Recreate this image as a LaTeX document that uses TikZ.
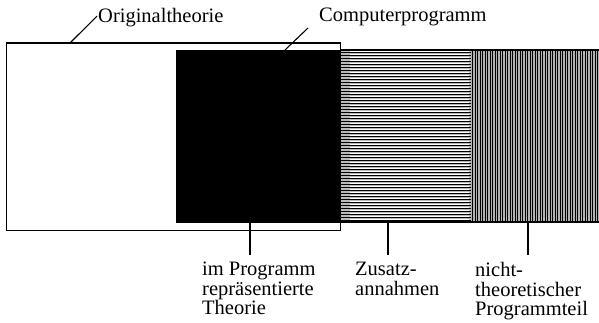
\documentclass[tikz,border=0pt]{standalone}
\usepackage{fontspec}
\setmainfont{Liberation Serif}
\begin{document}
\begin{tikzpicture}[x=1pt,y=1pt,
  lbl/.style={inner sep=0pt, font=\fontsize{20.5}{19.6}\selectfont},
  lead/.style={line width=1.1pt},
  box/.style={inner sep=0pt, outer sep=0pt, anchor=north west}]
\useasboundingbox (0,0) rectangle (599,323);
% original theory frame
\node[box, draw, line width=1.2pt, minimum width=334pt, minimum height=187.5pt] (orig) at (6.5,280) {};
% horizontal-striped region (Zusatzannahmen)
\node[box, fill=gray!55, minimum width=130pt, minimum height=172pt] (zus) at (341,273) {};
\foreach \y in {102.5,105.5,...,272} {
  \draw[black, line width=0.9pt] (341,\y) -- (471,\y);
  \draw[white, line width=0.35pt] (350,\y+1.5) -- (469,\y+1.5);
}
% vertical-striped region (nicht-theoretischer Programmteil)
\node[box, fill=gray!60, minimum width=128pt, minimum height=172pt] (nth) at (471,273) {};
\foreach \x in {472.5,475,...,599} {
  \draw[black, line width=0.8pt] (\x,101) -- (\x,273);
}
\draw[line width=1.5pt] (zus.north west) -- (nth.north east);
\draw[line width=1.5pt] (zus.south west) -- (nth.south east);
% program-represented theory (black)
\node[box, fill=black, minimum width=165pt, minimum height=173pt] (prog) at (176,273) {};
% labels
\node[lbl, anchor=base west] (t1) at (98,300) {Originaltheorie};
\node[lbl, anchor=base west] (t2) at (319,301) {Computerprogramm};
\node[lbl, anchor=north west, align=left] (b1) at (202,61) {im Programm\\repräsentierte\\Theorie};
\node[lbl, anchor=north west, align=left] (b2) at (355,61) {Zusatz-\\annahmen};
\node[lbl, anchor=north west, align=left] (b3) at (475,61) {nicht-\\theoretischer\\Programmteil};
% leader lines
\coordinate (o1) at (70,280);
\coordinate (c1) at (285,273);
\coordinate (c2) at (308,295);
\coordinate (e1) at (250,68);
\coordinate (e2) at (388,68);
\coordinate (e3) at (528,68);
\draw[lead] (o1) -- ([xshift=-1pt,yshift=2pt]t1.west);
\draw[lead] (c1) -- (c2);
\draw[lead] (prog.south -| e1) -- (e1);
\draw[lead] (zus.south -| e2) -- (e2);
\draw[lead] (nth.south -| e3) -- (e3);
\end{tikzpicture}
\end{document}
